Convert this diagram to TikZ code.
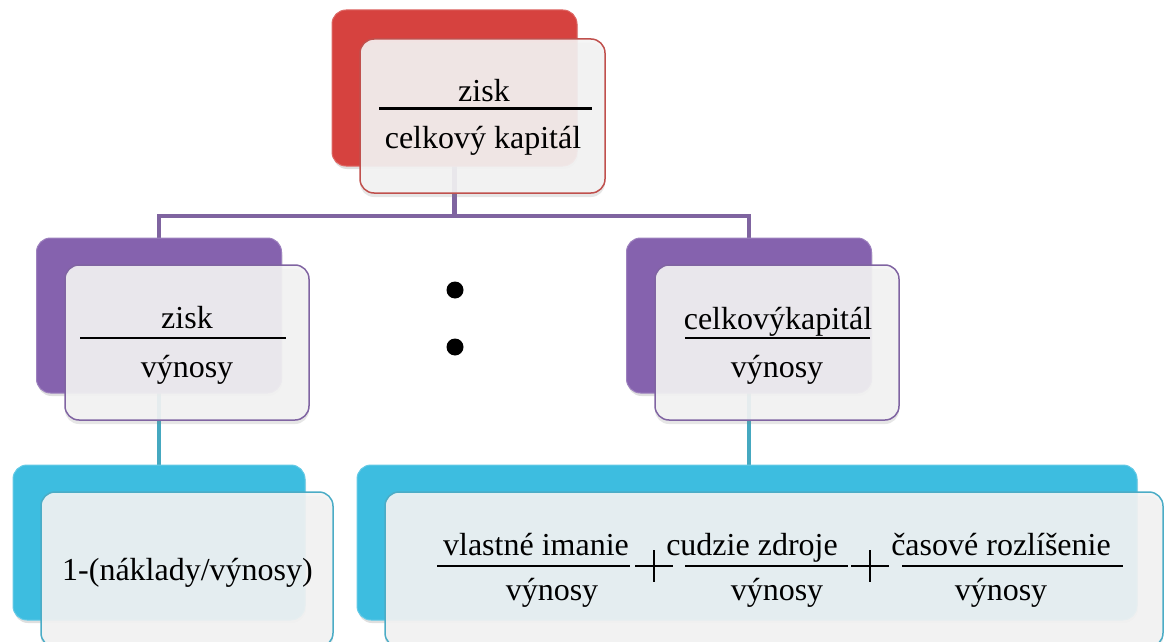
\documentclass[tikz,border=0pt]{standalone}
\usepackage{fontspec}
\setmainfont{Liberation Serif}
\usetikzlibrary{shadows,backgrounds}
\definecolor{redM}{HTML}{D6423F}
\definecolor{redB}{HTML}{C0504D}
\definecolor{purM}{HTML}{8562AE}
\definecolor{purB}{HTML}{8064A2}
\definecolor{cyaM}{HTML}{3DBDE0}
\definecolor{cyaB}{HTML}{4BACC6}
\definecolor{cyaLine}{HTML}{45A8C0}
\definecolor{purLine}{HTML}{7F64A0}
\definecolor{paper}{HTML}{F4F4F4}
\begin{document}
\begin{tikzpicture}[x=1pt,y=-1pt,
  every node/.style={inner sep=0pt, outer sep=0pt},
  txt/.style={font=\fontsize{32}{38}\selectfont, anchor=base},
  colbox/.style={rounded corners=14pt, draw=#1M!80!white, line width=1pt, fill=#1M,
     drop shadow={shadow xshift=1pt, shadow yshift=-3pt, opacity=0.25}},
  whitebox/.style={rounded corners=14pt, draw=#1B, line width=1.5pt,
     fill=paper, fill opacity=0.91,
     drop shadow={shadow xshift=0pt, shadow yshift=-4pt, opacity=0.2}},
  fracbar/.style={line width=2.6pt, black},
  plusbar/.style={line width=1.8pt, black},
  purconn/.style={line width=4.5pt, purLine},
  cyaconn/.style={line width=4.5pt, cyaLine}
]
\useasboundingbox (0,0) rectangle (1165,642);

% top
\node[colbox=red, minimum width=245pt, minimum height=156pt] (r0) at (454.5,88) {};
\node[whitebox=red, minimum width=245pt, minimum height=154pt] (w0) at (482.5,116) {};
% middle
\node[colbox=pur, minimum width=245pt, minimum height=155pt] (r1) at (159,315.5) {};
\node[whitebox=pur, minimum width=244pt, minimum height=155pt] (w1) at (187,342.5) {};
\node[colbox=pur, minimum width=245pt, minimum height=155pt] (r2) at (749,315.5) {};
\node[whitebox=pur, minimum width=244pt, minimum height=155pt] (w2) at (777,342.5) {};
% bottom
\node[colbox=cya, minimum width=292pt, minimum height=155pt] (r3) at (159,542.5) {};
\node[whitebox=cya, minimum width=292pt, minimum height=155pt] (w3) at (187,569.5) {};
\node[colbox=cya, minimum width=780pt, minimum height=155pt] (r4) at (747,542.5) {};
\node[whitebox=cya, minimum width=778pt, minimum height=155pt] (w4) at (774,569.5) {};

% connectors
\begin{pgfonlayer}{background}
\draw[purconn] (r0.south) -- ++(0,50) coordinate (hub) -| (r1.north);
\draw[purconn] (hub) -| (r2.north);
\draw[cyaconn] (r1.south) -- (r1.south |- r3.north);
\draw[cyaconn] (r2.south) -- (r2.south |- r4.north);
\end{pgfonlayer}

% dots
\node[circle, fill=black, minimum size=17pt] (d1) at (455,290) {};
\node[circle, fill=black, minimum size=17pt] (d2) at (455,347) {};

% top text
\node[txt] (t0n) at (484,102) {zisk};
\node[txt] (t0d) at (483,148) {celkový kapitál};
\draw[fracbar] (379,108.5) -- (592,108.5);

% left middle
\node[txt] (t1n) at (187,328) {zisk};
\node[txt] (t1d) at (187,377) {výnosy};
\draw[fracbar] (80,338) -- (286,338);

% right middle
\node[txt] (t2n) at (778,329) {celkovýkapitál};
\node[txt] (t2d) at (777,377) {výnosy};
\draw[fracbar] (685,338) -- (870,338);

% bottom left
\node[txt] (t3) at (187.5,580) {1-(náklady/výnosy)};

% bottom right formula
\node[txt] (f1n) at (536,555) {vlastné imanie};
\node[txt] (f1d) at (552,600) {výnosy};
\draw[fracbar] (437,566) -- (630,566);
\node[txt] (f2n) at (752,555) {cudzie zdroje};
\node[txt] (f2d) at (777,600) {výnosy};
\draw[fracbar] (685,566) -- (848,566);
\node[txt] (f3n) at (1001,555) {časové rozlíšenie};
\node[txt] (f3d) at (1001,600) {výnosy};
\draw[fracbar] (902,566) -- (1123,566);
% plus signs
\draw[plusbar] (635,566) -- (673,566) (654,550) -- (654,582);
\draw[plusbar] (851,566) -- (889,566) (870,550) -- (870,582);
\end{tikzpicture}
\end{document}
